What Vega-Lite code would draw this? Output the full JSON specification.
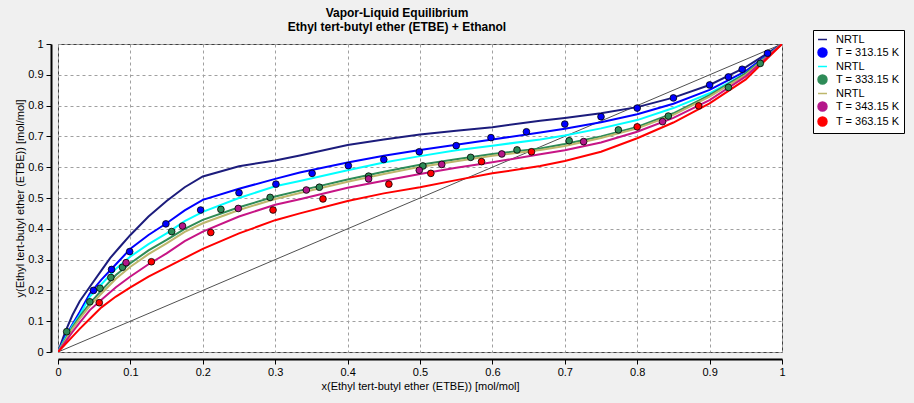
{
  "$schema": "https://vega.github.io/schema/vega-lite/v6.json",
  "autosize": "none",
  "width": 724,
  "height": 308,
  "padding": {"left": 58, "top": 44, "right": 132, "bottom": 51},
  "background": "#f0f0f0",
  "config": {
    "font": "Liberation Sans",
    "view": {"fill": "white", "stroke": "#404040", "strokeWidth": 1}
  },
  "title": {
    "text": ["Vapor-Liquid Equilibrium", "Ethyl tert-butyl ether (ETBE) + Ethanol"],
    "font": "Liberation Sans",
    "fontSize": 12,
    "fontWeight": "bold",
    "color": "black",
    "anchor": "middle",
    "dx": -23,
    "offset": -4,
    "lineHeight": 14
  },
  "datasets": {
    "diag": [{"x": 0, "y": 0}, {"x": 1, "y": 1}],
    "curves": [
      {"series": "NRTL 1", "x": 0, "y": 0}, {"series": "NRTL 1", "x": 0.01, "y": 0.065}, {"series": "NRTL 1", "x": 0.02, "y": 0.12}, {"series": "NRTL 1", "x": 0.03, "y": 0.165}, {"series": "NRTL 1", "x": 0.044, "y": 0.212}, {"series": "NRTL 1", "x": 0.06, "y": 0.265}, {"series": "NRTL 1", "x": 0.072, "y": 0.305}, {"series": "NRTL 1", "x": 0.085, "y": 0.34}, {"series": "NRTL 1", "x": 0.1, "y": 0.38}, {"series": "NRTL 1", "x": 0.125, "y": 0.44}, {"series": "NRTL 1", "x": 0.15, "y": 0.49}, {"series": "NRTL 1", "x": 0.175, "y": 0.535}, {"series": "NRTL 1", "x": 0.2, "y": 0.57}, {"series": "NRTL 1", "x": 0.25, "y": 0.603}, {"series": "NRTL 1", "x": 0.3, "y": 0.622}, {"series": "NRTL 1", "x": 0.334, "y": 0.638}, {"series": "NRTL 1", "x": 0.4, "y": 0.672}, {"series": "NRTL 1", "x": 0.45, "y": 0.69}, {"series": "NRTL 1", "x": 0.5, "y": 0.706}, {"series": "NRTL 1", "x": 0.55, "y": 0.718}, {"series": "NRTL 1", "x": 0.6, "y": 0.73}, {"series": "NRTL 1", "x": 0.666, "y": 0.751}, {"series": "NRTL 1", "x": 0.7, "y": 0.76}, {"series": "NRTL 1", "x": 0.75, "y": 0.775}, {"series": "NRTL 1", "x": 0.8, "y": 0.795}, {"series": "NRTL 1", "x": 0.85, "y": 0.826}, {"series": "NRTL 1", "x": 0.9, "y": 0.867}, {"series": "NRTL 1", "x": 0.95, "y": 0.925}, {"series": "NRTL 1", "x": 1, "y": 1},

      {"series": "NRTL 313", "x": 0, "y": 0}, {"series": "NRTL 313", "x": 0.01, "y": 0.05}, {"series": "NRTL 313", "x": 0.02, "y": 0.09}, {"series": "NRTL 313", "x": 0.03, "y": 0.13}, {"series": "NRTL 313", "x": 0.044, "y": 0.19}, {"series": "NRTL 313", "x": 0.06, "y": 0.235}, {"series": "NRTL 313", "x": 0.08, "y": 0.285}, {"series": "NRTL 313", "x": 0.1, "y": 0.335}, {"series": "NRTL 313", "x": 0.125, "y": 0.38}, {"series": "NRTL 313", "x": 0.15, "y": 0.418}, {"series": "NRTL 313", "x": 0.175, "y": 0.46}, {"series": "NRTL 313", "x": 0.2, "y": 0.494}, {"series": "NRTL 313", "x": 0.25, "y": 0.53}, {"series": "NRTL 313", "x": 0.3, "y": 0.562}, {"series": "NRTL 313", "x": 0.334, "y": 0.583}, {"series": "NRTL 313", "x": 0.4, "y": 0.615}, {"series": "NRTL 313", "x": 0.45, "y": 0.637}, {"series": "NRTL 313", "x": 0.5, "y": 0.656}, {"series": "NRTL 313", "x": 0.55, "y": 0.673}, {"series": "NRTL 313", "x": 0.6, "y": 0.69}, {"series": "NRTL 313", "x": 0.666, "y": 0.713}, {"series": "NRTL 313", "x": 0.7, "y": 0.725}, {"series": "NRTL 313", "x": 0.75, "y": 0.746}, {"series": "NRTL 313", "x": 0.8, "y": 0.772}, {"series": "NRTL 313", "x": 0.85, "y": 0.806}, {"series": "NRTL 313", "x": 0.9, "y": 0.851}, {"series": "NRTL 313", "x": 0.95, "y": 0.912}, {"series": "NRTL 313", "x": 1, "y": 1},

      {"series": "NRTL 2", "x": 0, "y": 0}, {"series": "NRTL 2", "x": 0.01, "y": 0.045}, {"series": "NRTL 2", "x": 0.02, "y": 0.085}, {"series": "NRTL 2", "x": 0.03, "y": 0.12}, {"series": "NRTL 2", "x": 0.044, "y": 0.18}, {"series": "NRTL 2", "x": 0.06, "y": 0.22}, {"series": "NRTL 2", "x": 0.08, "y": 0.27}, {"series": "NRTL 2", "x": 0.1, "y": 0.31}, {"series": "NRTL 2", "x": 0.125, "y": 0.35}, {"series": "NRTL 2", "x": 0.15, "y": 0.385}, {"series": "NRTL 2", "x": 0.175, "y": 0.425}, {"series": "NRTL 2", "x": 0.2, "y": 0.455}, {"series": "NRTL 2", "x": 0.25, "y": 0.5}, {"series": "NRTL 2", "x": 0.3, "y": 0.538}, {"series": "NRTL 2", "x": 0.334, "y": 0.555}, {"series": "NRTL 2", "x": 0.4, "y": 0.59}, {"series": "NRTL 2", "x": 0.45, "y": 0.615}, {"series": "NRTL 2", "x": 0.5, "y": 0.636}, {"series": "NRTL 2", "x": 0.55, "y": 0.655}, {"series": "NRTL 2", "x": 0.6, "y": 0.67}, {"series": "NRTL 2", "x": 0.666, "y": 0.69}, {"series": "NRTL 2", "x": 0.7, "y": 0.703}, {"series": "NRTL 2", "x": 0.75, "y": 0.726}, {"series": "NRTL 2", "x": 0.8, "y": 0.753}, {"series": "NRTL 2", "x": 0.85, "y": 0.792}, {"series": "NRTL 2", "x": 0.9, "y": 0.84}, {"series": "NRTL 2", "x": 0.95, "y": 0.905}, {"series": "NRTL 2", "x": 1, "y": 1},

      {"series": "NRTL 333", "x": 0, "y": 0}, {"series": "NRTL 333", "x": 0.01, "y": 0.04}, {"series": "NRTL 333", "x": 0.02, "y": 0.08}, {"series": "NRTL 333", "x": 0.03, "y": 0.115}, {"series": "NRTL 333", "x": 0.044, "y": 0.158}, {"series": "NRTL 333", "x": 0.06, "y": 0.2}, {"series": "NRTL 333", "x": 0.08, "y": 0.25}, {"series": "NRTL 333", "x": 0.1, "y": 0.288}, {"series": "NRTL 333", "x": 0.125, "y": 0.33}, {"series": "NRTL 333", "x": 0.15, "y": 0.364}, {"series": "NRTL 333", "x": 0.175, "y": 0.4}, {"series": "NRTL 333", "x": 0.2, "y": 0.429}, {"series": "NRTL 333", "x": 0.25, "y": 0.47}, {"series": "NRTL 333", "x": 0.3, "y": 0.505}, {"series": "NRTL 333", "x": 0.334, "y": 0.524}, {"series": "NRTL 333", "x": 0.4, "y": 0.56}, {"series": "NRTL 333", "x": 0.45, "y": 0.585}, {"series": "NRTL 333", "x": 0.5, "y": 0.608}, {"series": "NRTL 333", "x": 0.55, "y": 0.626}, {"series": "NRTL 333", "x": 0.6, "y": 0.643}, {"series": "NRTL 333", "x": 0.666, "y": 0.661}, {"series": "NRTL 333", "x": 0.7, "y": 0.675}, {"series": "NRTL 333", "x": 0.75, "y": 0.7}, {"series": "NRTL 333", "x": 0.8, "y": 0.731}, {"series": "NRTL 333", "x": 0.85, "y": 0.775}, {"series": "NRTL 333", "x": 0.9, "y": 0.834}, {"series": "NRTL 333", "x": 0.95, "y": 0.905}, {"series": "NRTL 333", "x": 1, "y": 1},

      {"series": "NRTL 3", "x": 0, "y": 0}, {"series": "NRTL 3", "x": 0.01, "y": 0.037}, {"series": "NRTL 3", "x": 0.02, "y": 0.075}, {"series": "NRTL 3", "x": 0.03, "y": 0.108}, {"series": "NRTL 3", "x": 0.044, "y": 0.15}, {"series": "NRTL 3", "x": 0.06, "y": 0.19}, {"series": "NRTL 3", "x": 0.08, "y": 0.238}, {"series": "NRTL 3", "x": 0.1, "y": 0.277}, {"series": "NRTL 3", "x": 0.125, "y": 0.318}, {"series": "NRTL 3", "x": 0.15, "y": 0.353}, {"series": "NRTL 3", "x": 0.175, "y": 0.39}, {"series": "NRTL 3", "x": 0.2, "y": 0.418}, {"series": "NRTL 3", "x": 0.25, "y": 0.461}, {"series": "NRTL 3", "x": 0.3, "y": 0.497}, {"series": "NRTL 3", "x": 0.334, "y": 0.516}, {"series": "NRTL 3", "x": 0.4, "y": 0.553}, {"series": "NRTL 3", "x": 0.45, "y": 0.578}, {"series": "NRTL 3", "x": 0.5, "y": 0.601}, {"series": "NRTL 3", "x": 0.55, "y": 0.619}, {"series": "NRTL 3", "x": 0.6, "y": 0.637}, {"series": "NRTL 3", "x": 0.666, "y": 0.656}, {"series": "NRTL 3", "x": 0.7, "y": 0.669}, {"series": "NRTL 3", "x": 0.75, "y": 0.695}, {"series": "NRTL 3", "x": 0.8, "y": 0.726}, {"series": "NRTL 3", "x": 0.85, "y": 0.77}, {"series": "NRTL 3", "x": 0.9, "y": 0.829}, {"series": "NRTL 3", "x": 0.95, "y": 0.9}, {"series": "NRTL 3", "x": 1, "y": 1},

      {"series": "NRTL 343", "x": 0, "y": 0}, {"series": "NRTL 343", "x": 0.01, "y": 0.032}, {"series": "NRTL 343", "x": 0.02, "y": 0.065}, {"series": "NRTL 343", "x": 0.03, "y": 0.095}, {"series": "NRTL 343", "x": 0.044, "y": 0.136}, {"series": "NRTL 343", "x": 0.06, "y": 0.17}, {"series": "NRTL 343", "x": 0.08, "y": 0.21}, {"series": "NRTL 343", "x": 0.1, "y": 0.245}, {"series": "NRTL 343", "x": 0.125, "y": 0.285}, {"series": "NRTL 343", "x": 0.15, "y": 0.32}, {"series": "NRTL 343", "x": 0.175, "y": 0.36}, {"series": "NRTL 343", "x": 0.2, "y": 0.391}, {"series": "NRTL 343", "x": 0.25, "y": 0.44}, {"series": "NRTL 343", "x": 0.3, "y": 0.478}, {"series": "NRTL 343", "x": 0.334, "y": 0.496}, {"series": "NRTL 343", "x": 0.4, "y": 0.533}, {"series": "NRTL 343", "x": 0.45, "y": 0.556}, {"series": "NRTL 343", "x": 0.5, "y": 0.578}, {"series": "NRTL 343", "x": 0.55, "y": 0.598}, {"series": "NRTL 343", "x": 0.6, "y": 0.616}, {"series": "NRTL 343", "x": 0.666, "y": 0.642}, {"series": "NRTL 343", "x": 0.7, "y": 0.655}, {"series": "NRTL 343", "x": 0.75, "y": 0.68}, {"series": "NRTL 343", "x": 0.8, "y": 0.715}, {"series": "NRTL 343", "x": 0.85, "y": 0.76}, {"series": "NRTL 343", "x": 0.9, "y": 0.818}, {"series": "NRTL 343", "x": 0.95, "y": 0.895}, {"series": "NRTL 343", "x": 1, "y": 1},

      {"series": "NRTL 363", "x": 0, "y": 0}, {"series": "NRTL 363", "x": 0.01, "y": 0.025}, {"series": "NRTL 363", "x": 0.02, "y": 0.05}, {"series": "NRTL 363", "x": 0.03, "y": 0.075}, {"series": "NRTL 363", "x": 0.044, "y": 0.108}, {"series": "NRTL 363", "x": 0.06, "y": 0.145}, {"series": "NRTL 363", "x": 0.08, "y": 0.18}, {"series": "NRTL 363", "x": 0.1, "y": 0.21}, {"series": "NRTL 363", "x": 0.125, "y": 0.245}, {"series": "NRTL 363", "x": 0.15, "y": 0.275}, {"series": "NRTL 363", "x": 0.175, "y": 0.305}, {"series": "NRTL 363", "x": 0.2, "y": 0.335}, {"series": "NRTL 363", "x": 0.25, "y": 0.385}, {"series": "NRTL 363", "x": 0.3, "y": 0.428}, {"series": "NRTL 363", "x": 0.334, "y": 0.45}, {"series": "NRTL 363", "x": 0.4, "y": 0.49}, {"series": "NRTL 363", "x": 0.45, "y": 0.515}, {"series": "NRTL 363", "x": 0.5, "y": 0.535}, {"series": "NRTL 363", "x": 0.55, "y": 0.558}, {"series": "NRTL 363", "x": 0.6, "y": 0.58}, {"series": "NRTL 363", "x": 0.666, "y": 0.604}, {"series": "NRTL 363", "x": 0.7, "y": 0.62}, {"series": "NRTL 363", "x": 0.75, "y": 0.65}, {"series": "NRTL 363", "x": 0.8, "y": 0.694}, {"series": "NRTL 363", "x": 0.85, "y": 0.745}, {"series": "NRTL 363", "x": 0.9, "y": 0.807}, {"series": "NRTL 363", "x": 0.95, "y": 0.885}, {"series": "NRTL 363", "x": 1, "y": 1}
    ],
    "points": [
      {"series": "T = 313.15 K", "x": 0.049, "y": 0.2}, {"series": "T = 313.15 K", "x": 0.074, "y": 0.268}, {"series": "T = 313.15 K", "x": 0.099, "y": 0.326}, {"series": "T = 313.15 K", "x": 0.149, "y": 0.416}, {"series": "T = 313.15 K", "x": 0.197, "y": 0.461}, {"series": "T = 313.15 K", "x": 0.25, "y": 0.517}, {"series": "T = 313.15 K", "x": 0.301, "y": 0.545}, {"series": "T = 313.15 K", "x": 0.351, "y": 0.58}, {"series": "T = 313.15 K", "x": 0.401, "y": 0.605}, {"series": "T = 313.15 K", "x": 0.45, "y": 0.625}, {"series": "T = 313.15 K", "x": 0.499, "y": 0.65}, {"series": "T = 313.15 K", "x": 0.55, "y": 0.67}, {"series": "T = 313.15 K", "x": 0.598, "y": 0.696}, {"series": "T = 313.15 K", "x": 0.647, "y": 0.715}, {"series": "T = 313.15 K", "x": 0.7, "y": 0.74}, {"series": "T = 313.15 K", "x": 0.75, "y": 0.764}, {"series": "T = 313.15 K", "x": 0.8, "y": 0.792}, {"series": "T = 313.15 K", "x": 0.85, "y": 0.825}, {"series": "T = 313.15 K", "x": 0.9, "y": 0.867}, {"series": "T = 313.15 K", "x": 0.926, "y": 0.893}, {"series": "T = 313.15 K", "x": 0.945, "y": 0.918}, {"series": "T = 313.15 K", "x": 0.98, "y": 0.97},

      {"series": "T = 333.15 K", "x": 0.012, "y": 0.066}, {"series": "T = 333.15 K", "x": 0.044, "y": 0.163}, {"series": "T = 333.15 K", "x": 0.058, "y": 0.207}, {"series": "T = 333.15 K", "x": 0.073, "y": 0.242}, {"series": "T = 333.15 K", "x": 0.089, "y": 0.275}, {"series": "T = 333.15 K", "x": 0.157, "y": 0.391}, {"series": "T = 333.15 K", "x": 0.225, "y": 0.463}, {"series": "T = 333.15 K", "x": 0.293, "y": 0.502}, {"series": "T = 333.15 K", "x": 0.361, "y": 0.535}, {"series": "T = 333.15 K", "x": 0.429, "y": 0.571}, {"series": "T = 333.15 K", "x": 0.504, "y": 0.604}, {"series": "T = 333.15 K", "x": 0.57, "y": 0.632}, {"series": "T = 333.15 K", "x": 0.634, "y": 0.656}, {"series": "T = 333.15 K", "x": 0.706, "y": 0.686}, {"series": "T = 333.15 K", "x": 0.774, "y": 0.721}, {"series": "T = 333.15 K", "x": 0.843, "y": 0.766}, {"series": "T = 333.15 K", "x": 0.926, "y": 0.859}, {"series": "T = 333.15 K", "x": 0.97, "y": 0.937},

      {"series": "T = 343.15 K", "x": 0.094, "y": 0.29}, {"series": "T = 343.15 K", "x": 0.172, "y": 0.409}, {"series": "T = 343.15 K", "x": 0.249, "y": 0.466}, {"series": "T = 343.15 K", "x": 0.343, "y": 0.526}, {"series": "T = 343.15 K", "x": 0.429, "y": 0.562}, {"series": "T = 343.15 K", "x": 0.499, "y": 0.59}, {"series": "T = 343.15 K", "x": 0.53, "y": 0.609}, {"series": "T = 343.15 K", "x": 0.613, "y": 0.643}, {"series": "T = 343.15 K", "x": 0.726, "y": 0.683}, {"series": "T = 343.15 K", "x": 0.835, "y": 0.748},

      {"series": "T = 363.15 K", "x": 0.057, "y": 0.16}, {"series": "T = 363.15 K", "x": 0.129, "y": 0.293}, {"series": "T = 363.15 K", "x": 0.211, "y": 0.388}, {"series": "T = 363.15 K", "x": 0.297, "y": 0.461}, {"series": "T = 363.15 K", "x": 0.366, "y": 0.497}, {"series": "T = 363.15 K", "x": 0.457, "y": 0.545}, {"series": "T = 363.15 K", "x": 0.515, "y": 0.58}, {"series": "T = 363.15 K", "x": 0.585, "y": 0.618}, {"series": "T = 363.15 K", "x": 0.654, "y": 0.65}, {"series": "T = 363.15 K", "x": 0.8, "y": 0.731}, {"series": "T = 363.15 K", "x": 0.885, "y": 0.799}
    ]
  },
  "encoding": {
    "x": {"field": "x", "type": "quantitative", "scale": {"domain": [0, 1], "nice": false},
      "axis": {"orient": "bottom", "offset": 7, "grid": true, "gridDash": [3, 3], "gridColor": "#a0a0a0", "domainColor": "black", "domainWidth": 2, "tickColor": "black", "tickSize": 5, "labelFontSize": 11, "labelColor": "black", "labelPadding": 2, "format": "~g", "values": [0, 0.1, 0.2, 0.3, 0.4, 0.5, 0.6, 0.7, 0.8, 0.9, 1], "labelFlush": false, "labelOverlap": false, "title": "x(Ethyl tert-butyl ether (ETBE)) [mol/mol]", "titleFontSize": 11, "titleFontWeight": "normal", "titleColor": "black", "titlePadding": 3}},
    "y": {"field": "y", "type": "quantitative", "scale": {"domain": [0, 1], "nice": false},
      "axis": {"orient": "left", "offset": 7, "grid": true, "gridDash": [3, 3], "gridColor": "#a0a0a0", "domainColor": "black", "domainWidth": 2, "tickColor": "black", "tickSize": 5, "labelFontSize": 11, "labelColor": "black", "labelPadding": 3, "format": "~g", "values": [0, 0.1, 0.2, 0.3, 0.4, 0.5, 0.6, 0.7, 0.8, 0.9, 1], "labelFlush": false, "labelOverlap": false, "title": "y(Ethyl tert-butyl ether (ETBE)) [mol/mol]", "titleFontSize": 11, "titleFontWeight": "normal", "titleColor": "black", "titlePadding": 2}}
  },
  "layer": [
    {
      "data": {"name": "diag"},
      "mark": {"type": "line", "color": "#505050", "strokeWidth": 1, "clip": true},
      "encoding": {}
    },
    {
      "data": {"name": "curves"},
      "mark": {"type": "line", "strokeWidth": 2, "clip": true},
      "encoding": {
        "color": {"field": "series", "type": "nominal",
          "scale": {
            "domain": ["NRTL 1", "T = 313.15 K", "NRTL 2", "T = 333.15 K", "NRTL 3", "T = 343.15 K", "T = 363.15 K", "NRTL 313", "NRTL 333", "NRTL 343", "NRTL 363"],
            "range": ["#1c1c7c", "#0000ff", "#00ffff", "#2e8b57", "#bdb76b", "#b5178a", "#ff0000", "#0000ff", "#2e8b57", "#c71585", "#ff0000"]
          },
          "legend": {
            "orient": "none", "legendX": 755, "legendY": -14,
            "title": null,
            "values": ["NRTL 1", "T = 313.15 K", "NRTL 2", "T = 333.15 K", "NRTL 3", "T = 343.15 K", "T = 363.15 K"],
            "labelExpr": "indexof(datum.label, 'NRTL') == 0 ? 'NRTL' : datum.label",
            "labelFontSize": 11, "labelColor": "black", "labelOffset": 8,
            "fillColor": "white", "strokeColor": "black", "padding": 4, "rowPadding": 0,
            "symbolSize": 80,
            "symbolStrokeWidth": 1.5,
            "encode": {
              "symbols": {
                "update": {
                  "shape": {"signal": "indexof(datum.value, 'NRTL') == 0 ? 'stroke' : 'circle'"}
                }
              }
            }
          }
        },
        "order": {"field": "x", "type": "quantitative"}
      }
    },
    {
      "data": {"name": "points"},
      "mark": {"type": "point", "filled": true, "shape": "circle", "size": 45, "stroke": "black", "strokeWidth": 0.8, "opacity": 1},
      "encoding": {
        "color": {"field": "series", "type": "nominal"}
      }
    }
  ]
}
